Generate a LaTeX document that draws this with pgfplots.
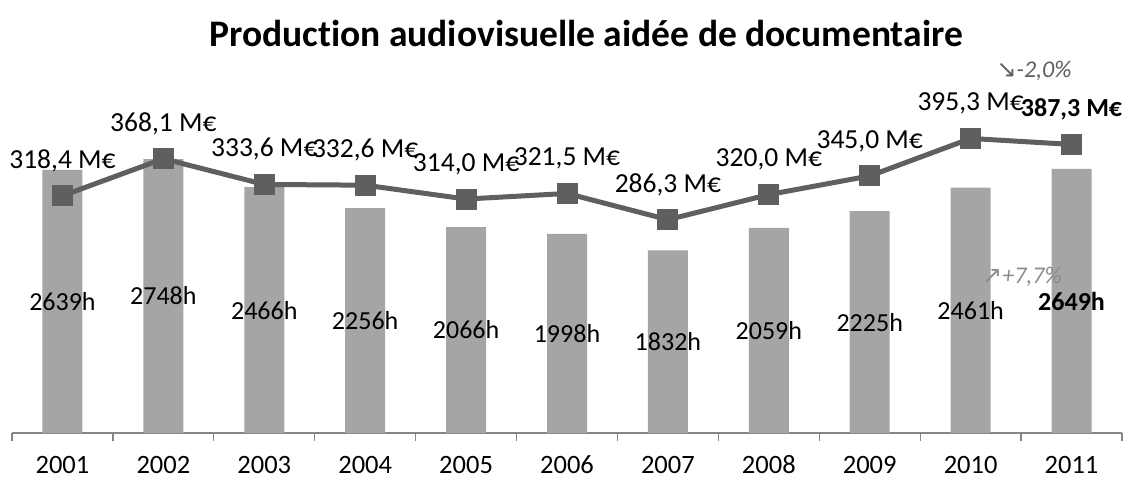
\documentclass[border=0pt]{standalone}
\usepackage{pgfplots}
\pgfplotsset{compat=1.18}
\usepackage{pgfplotstable}
\usepackage{fontspec}
\setmainfont{Carlito}[Ligatures=NoCommon]
\newfontfamily\symfont{DejaVu Sans}
\definecolor{barg}{HTML}{A5A5A5}
\definecolor{lineg}{HTML}{5F5F5F}
\definecolor{axg}{HTML}{868686}
\definecolor{pctg}{HTML}{8C8C8C}

\pgfkeys{/pgf/number format/assume math mode=true}

% annee, heures, millions d'euros
\pgfplotstableread{
x h m
0 2639 318.4
1 2748 368.1
2 2466 333.6
3 2256 332.6
4 2066 314.0
5 1998 321.5
6 1832 286.3
7 2059 320.0
8 2225 345.0
9 2461 395.3
10 2649 387.3
}\data

\pgfplotsset{common/.style={
    scale only axis, width=1110pt, height=299pt,
    xmin=-0.5, xmax=10.5, ymin=0,
    at={(12pt,46pt)}, anchor=south west, clip=false,
    /pgf/number format/assume math mode=true,
}}

\begin{document}
\begin{tikzpicture}[x=1pt,y=1pt]
\useasboundingbox (0,0) rectangle (1123,479);

\begin{axis}[common, ymax=3000,
    axis y line=none, axis x line*=bottom,
    x axis line style={axg, line width=1.3pt, -},
    xtick={0,...,10},
    xticklabels={2001,2002,2003,2004,2005,2006,2007,2008,2009,2010,2011},
    major tick length=0pt,
    minor xtick={-0.5,0.5,...,10.5},
    minor tick length=8pt, tick align=outside,
    minor tick style={axg, line width=1.3pt},
    xticklabel style={anchor=center, yshift=-32pt, inner sep=1pt, font=\fontsize{26.5}{30}\selectfont},
]
\addplot[ybar, bar width=40pt, fill=barg, draw=none] table[x=x, y=h]{\data};
\addplot[draw=none, point meta=explicit, restrict x to domain=0:9,
    nodes near coords={\pgfmathprintnumber[fixed, precision=0, 1000 sep={}]{\pgfplotspointmeta}h},
    nodes near coords style={anchor=center, font=\fontsize{26}{30}\selectfont}]
    table[x=x, y expr=\thisrow{h}/2, meta=h]{\data};
\addplot[draw=none, point meta=explicit, restrict x to domain=10:10,
    nodes near coords={\pgfmathprintnumber[fixed, precision=0, 1000 sep={}]{\pgfplotspointmeta}h},
    nodes near coords style={anchor=center, font=\bfseries\fontsize{26}{30}\selectfont}]
    table[x=x, y expr=\thisrow{h}/2, meta=h]{\data};
\end{axis}

\begin{axis}[common, ymax=401.3, axis lines=none]
\addplot[lineg, line width=5pt, mark=square*, mark size=10pt,
    mark options={line width=0pt, fill=lineg, draw=lineg}] table[x=x, y=m]{\data};
\addplot[draw=none, restrict x to domain=0:9,
    nodes near coords={\pgfmathprintnumber[fixed, fixed zerofill, precision=1, use comma, 1000 sep={}]{\pgfplotspointmeta}~M€},
    nodes near coords style={anchor=center, yshift=35pt, font=\fontsize{27.5}{32}\selectfont}]
    table[x=x, y=m]{\data};
\addplot[draw=none, restrict x to domain=10:10,
    nodes near coords={\pgfmathprintnumber[fixed, fixed zerofill, precision=1, use comma, 1000 sep={}]{\pgfplotspointmeta}~M€},
    nodes near coords style={anchor=center, yshift=35pt, font=\bfseries\fontsize{26}{30}\selectfont}]
    table[x=x, y=m]{\data};
\end{axis}

\node[font=\bfseries\fontsize{37.5}{44}\selectfont] at (586,446) {Production audiovisuelle aidée de documentaire};
\node[font=\itshape\fontsize{24}{28}\selectfont, text=lineg] at (1034,408) {{\symfont\upshape\fontsize{24}{28}\selectfont ↘}-2,0\%};
\node[font=\itshape\fontsize{24}{28}\selectfont, text=pctg] at (1022,202) {{\symfont\upshape\fontsize{24}{28}\selectfont ↗}+7,7\%};
\end{tikzpicture}
\end{document}
